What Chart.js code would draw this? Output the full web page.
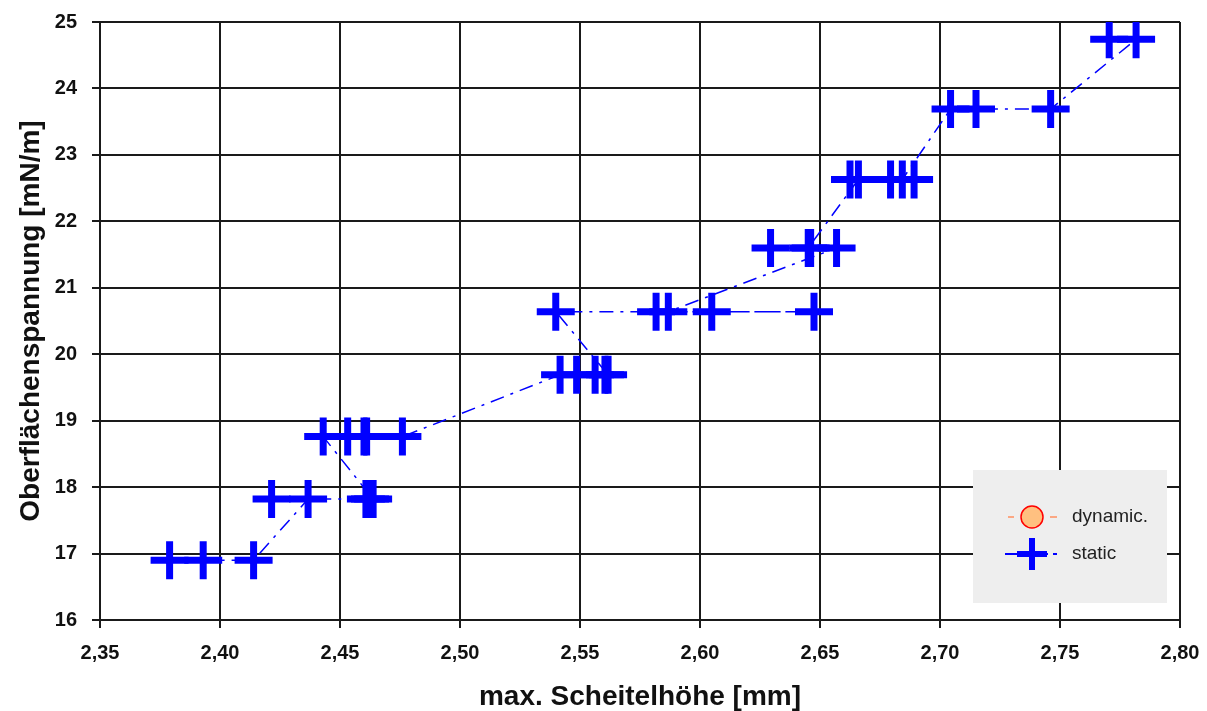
<!DOCTYPE html>
<html><head><meta charset="utf-8">
<script src="https://cdn.jsdelivr.net/npm/chart.js@4/dist/chart.umd.min.js"></script>
<style>html,body{margin:0;padding:0;background:#fff;}#wrap{width:1207px;height:711px;}</style>
</head><body><div id="wrap"><canvas id="c" width="1207" height="711"></canvas></div>
<script>
// ---- data ----
const staticX = [2.379, 2.393, 2.414,
  2.4367, 2.4215, 2.4608, 2.4625, 2.4638,
  2.443, 2.4532, 2.460, 2.4611, 2.476,
  2.5417, 2.5486, 2.5563, 2.5604, 2.5617,
  2.5399, 2.6049, 2.6475, 2.5817, 2.5868,
  2.6569, 2.6294, 2.6461, 2.6451,
  2.666, 2.6625, 2.6794, 2.6892, 2.6843,
  2.7044, 2.715, 2.7461,
  2.7817, 2.7705];
const staticY = [16.90, 16.90, 16.90,
  17.82, 17.82, 17.82, 17.82, 17.82,
  18.76, 18.76, 18.76, 18.76, 18.76,
  19.69, 19.69, 19.69, 19.69, 19.69,
  20.64, 20.64, 20.64, 20.64, 20.64,
  21.60, 21.60, 21.60, 21.60,
  22.63, 22.63, 22.63, 22.63, 22.63,
  23.69, 23.69, 23.69,
  24.74, 24.74];
const dynamicX = [];
const dynamicY = [];
const xTicks = [2.35, 2.40, 2.45, 2.50, 2.55, 2.60, 2.65, 2.70, 2.75, 2.80];
const yTicks = [16, 17, 18, 19, 20, 21, 22, 23, 24, 25];
const seriesNames = ['dynamic.', 'static'];
const xTitle = 'max. Scheitelhöhe [mm]';
const yTitle = 'Oberflächenspannung [mN/m]';

const FONT = '"Liberation Sans", Arial, sans-serif';
const toPts = (xs, ys) => xs.map((x, i) => ({x: x, y: ys[i]}));

const legendBox = {
  id: 'legendBox',
  afterDraw(chart) {
    const ctx = chart.ctx;
    ctx.save();
    ctx.fillStyle = '#eeeeee';
    ctx.fillRect(973, 470, 194, 133);
    // dynamic entry
    const y1 = 517, cx = 1032;
    ctx.strokeStyle = '#ff9060';
    ctx.lineWidth = 1.5;
    ctx.beginPath(); ctx.moveTo(1008, y1); ctx.lineTo(1014, y1); ctx.moveTo(1050, y1); ctx.lineTo(1057, y1); ctx.stroke();
    ctx.beginPath(); ctx.arc(cx, y1, 11, 0, Math.PI * 2);
    ctx.fillStyle = '#ffc080'; ctx.fill();
    ctx.strokeStyle = '#ff0000'; ctx.lineWidth = 1.5; ctx.stroke();
    // static entry
    const y2 = 554;
    ctx.strokeStyle = '#0000ff';
    ctx.lineWidth = 2;
    ctx.beginPath(); ctx.moveTo(1005, y2); ctx.lineTo(1048, y2); ctx.moveTo(1053, y2); ctx.lineTo(1057, y2); ctx.stroke();
    ctx.lineWidth = 6;
    ctx.beginPath(); ctx.moveTo(1017, y2); ctx.lineTo(1047, y2); ctx.moveTo(cx, y2 - 16); ctx.lineTo(cx, y2 + 16); ctx.stroke();
    ctx.fillStyle = '#222';
    ctx.font = '19px ' + FONT;
    ctx.textBaseline = 'middle';
    ctx.textAlign = 'left';
    ctx.fillText(seriesNames[0], 1072, y1);
    ctx.fillText(seriesNames[1], 1072, y2);
    ctx.restore();
  }
};

new Chart(document.getElementById('c'), {
  type: 'scatter',
  data: {
    datasets: [
      {label: seriesNames[0], data: toPts(dynamicX, dynamicY), showLine: true,
        borderColor: '#ff9060', backgroundColor: '#ffc080', pointBorderColor: '#ff0000',
        pointRadius: 11, borderWidth: 1.5},
      {label: seriesNames[1], data: toPts(staticX, staticY), showLine: true,
        borderColor: '#0000ff', backgroundColor: '#0000ff', borderWidth: 1.5,
        borderDash: [14, 7, 3, 7], tension: 0, clip: 0,
        pointStyle: 'cross', pointRadius: 19, pointBorderWidth: 7,
        pointBorderColor: '#0000ff', pointHoverRadius: 19}
    ]
  },
  options: {
    responsive: false, animation: false, devicePixelRatio: 1,
    layout: {autoPadding: false, padding: {top: 22, right: 27, left: 0, bottom: 0}},
    plugins: {legend: {display: false}, tooltip: {enabled: false}},
    scales: {
      x: {
        type: 'linear', min: 2.35, max: 2.80,
        afterBuildTicks: s => { s.ticks = xTicks.map(v => ({value: v})); },
        afterFit: s => { s.height = 91; s.paddingLeft = 0; s.paddingRight = 0; },
        ticks: {
          callback: v => Number(v).toFixed(2).replace('.', ','),
          font: {family: FONT, size: 20, weight: 'bold'}, color: '#111',
          padding: 13, maxRotation: 0, autoSkip: false
        },
        grid: {color: '#1a1a1a', lineWidth: 2, tickLength: 8, tickColor: '#1a1a1a'},
        border: {display: true, color: '#1a1a1a', width: 2},
        title: {display: true, text: xTitle, font: {family: FONT, size: 28, weight: 'bold', lineHeight: 0.95},
          color: '#111', padding: {top: 0, bottom: 0}}
      },
      y: {
        type: 'linear', min: 16, max: 25,
        afterBuildTicks: s => { s.ticks = yTicks.map(v => ({value: v})); },
        afterFit: s => { s.width = 100; s.paddingTop = 0; s.paddingBottom = 0; },
        ticks: {
          callback: v => String(v),
          font: {family: FONT, size: 20, weight: 'bold'}, color: '#111',
          padding: 15, autoSkip: false
        },
        grid: {color: '#1a1a1a', lineWidth: 2, tickLength: 8, tickColor: '#1a1a1a'},
        border: {display: true, color: '#1a1a1a', width: 2},
        title: {display: true, text: yTitle, font: {family: FONT, size: 28, weight: 'bold', lineHeight: 1},
          color: '#111', padding: {top: 17, bottom: 0}}
      }
    }
  },
  plugins: [legendBox]
});
</script></body></html>
